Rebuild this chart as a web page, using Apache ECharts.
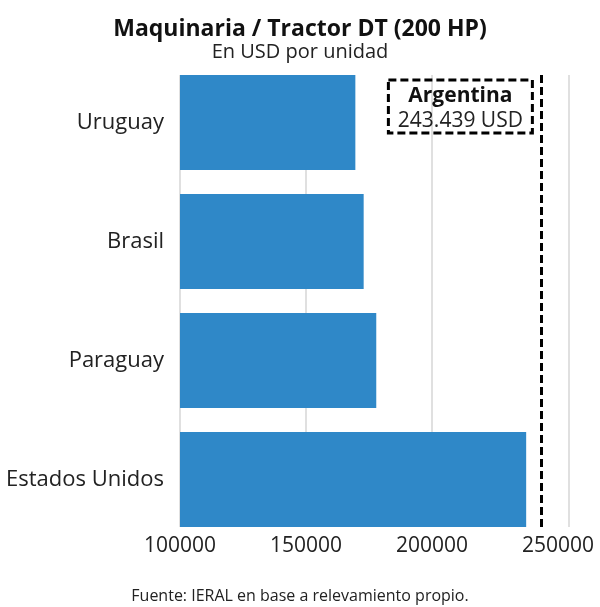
<!DOCTYPE html>
<html><head><meta charset="utf-8">
<script src="https://cdn.jsdelivr.net/npm/echarts@6/dist/echarts.min.js"></script>
<style>html,body{margin:0;padding:0;background:#fff}#c{width:600px;height:607px}</style>
</head><body><div id="c"></div>
<script>
const TITLE = 'Maquinaria / Tractor DT (200 HP)';
const SUBTITLE = 'En USD por unidad';
const SOURCE = 'Fuente: IERAL en base a relevamiento propio.';
const categories = ['Uruguay', 'Brasil', 'Paraguay', 'Estados Unidos'];
const values = [169600, 172900, 177900, 237400];
const argentinaValue = 243439;
const argentinaLabel = 'Argentina';
const argentinaText = '243.439 USD';
const xMin = 100000;
const xMax = 254400;
const xTickLabels = [100000, 150000, 200000, 250000];
const gridLineValues = [100000, 150000, 200000, 254400];

const FONT = '"Open Sans", sans-serif';
const chart = echarts.init(document.getElementById('c'), null, {renderer: 'canvas'});

const option = {
  animation: false,
  backgroundColor: '#fff',
  textStyle: {fontFamily: FONT},
  title: [
    {text: TITLE, left: 'center', top: 13, textStyle: {fontSize: 23, fontWeight: 'bold', color: '#111', fontFamily: FONT}},
    {text: SUBTITLE, left: 'center', top: 37, textStyle: {fontSize: 20, fontWeight: 'normal', color: '#222', fontFamily: FONT}},
    {text: SOURCE, left: 'center', top: 583, textStyle: {fontSize: 16, fontWeight: 'normal', color: '#222', fontFamily: FONT}}
  ],
  grid: [
    {left: 180, right: 31, top: 63, height: 476},
    {left: 180, right: 31, top: 75, height: 452}
  ],
  xAxis: [
    {gridIndex: 0, type: 'value', min: xMin, max: xMax, show: false},
    {gridIndex: 1, type: 'value', min: xMin, max: xMax, interval: 50000,
     axisLine: {show: false}, axisTick: {show: false}, splitLine: {show: false},
     axisLabel: {customValues: xTickLabels, formatter: v => String(v), color: '#222', fontSize: 21, margin: 9, fontFamily: FONT}}
  ],
  yAxis: [
    {gridIndex: 0, type: 'category', data: categories, inverse: true,
     axisLine: {show: false}, axisTick: {show: false}, splitLine: {show: false},
     axisLabel: {fontSize: 22, color: '#222', margin: 16, fontFamily: FONT}},
    {gridIndex: 1, type: 'value', min: 0, max: 1, show: false}
  ],
  series: [
    {type: 'bar', xAxisIndex: 0, yAxisIndex: 0, data: values, barCategoryGap: '20%',
     itemStyle: {color: '#2f88c8'}, z: 5},
    {type: 'line', xAxisIndex: 1, yAxisIndex: 1, data: [], z: 1,
     markLine: {z: 1, symbol: 'none', silent: true, label: {show: false}, animation: false,
       data: gridLineValues.map(v => ({xAxis: v, lineStyle: {color: '#d6d6d6', width: 1.5, type: 'solid'}}))
         .concat([{xAxis: argentinaValue, lineStyle: {color: '#000', width: 3, type: [8, 4]}}])}}
  ]
};
chart.setOption(option);

const lx = chart.convertToPixel({xAxisIndex: 1}, argentinaValue);
chart.setOption({
  graphic: [
    {type: 'rect', z: 10, shape: {x: lx - 153, y: 80, width: 144, height: 53},
     style: {fill: 'none', stroke: '#000', lineWidth: 3, lineDash: [8, 4]}},
    {type: 'text', z: 10, x: lx - 81, y: 96,
     style: {text: argentinaLabel, fill: '#111', font: 'bold 21px ' + FONT, align: 'center', verticalAlign: 'middle'}},
    {type: 'text', z: 10, x: lx - 81, y: 121,
     style: {text: argentinaText, fill: '#222', font: '21px ' + FONT, align: 'center', verticalAlign: 'middle'}}
  ]
});
</script></body></html>
